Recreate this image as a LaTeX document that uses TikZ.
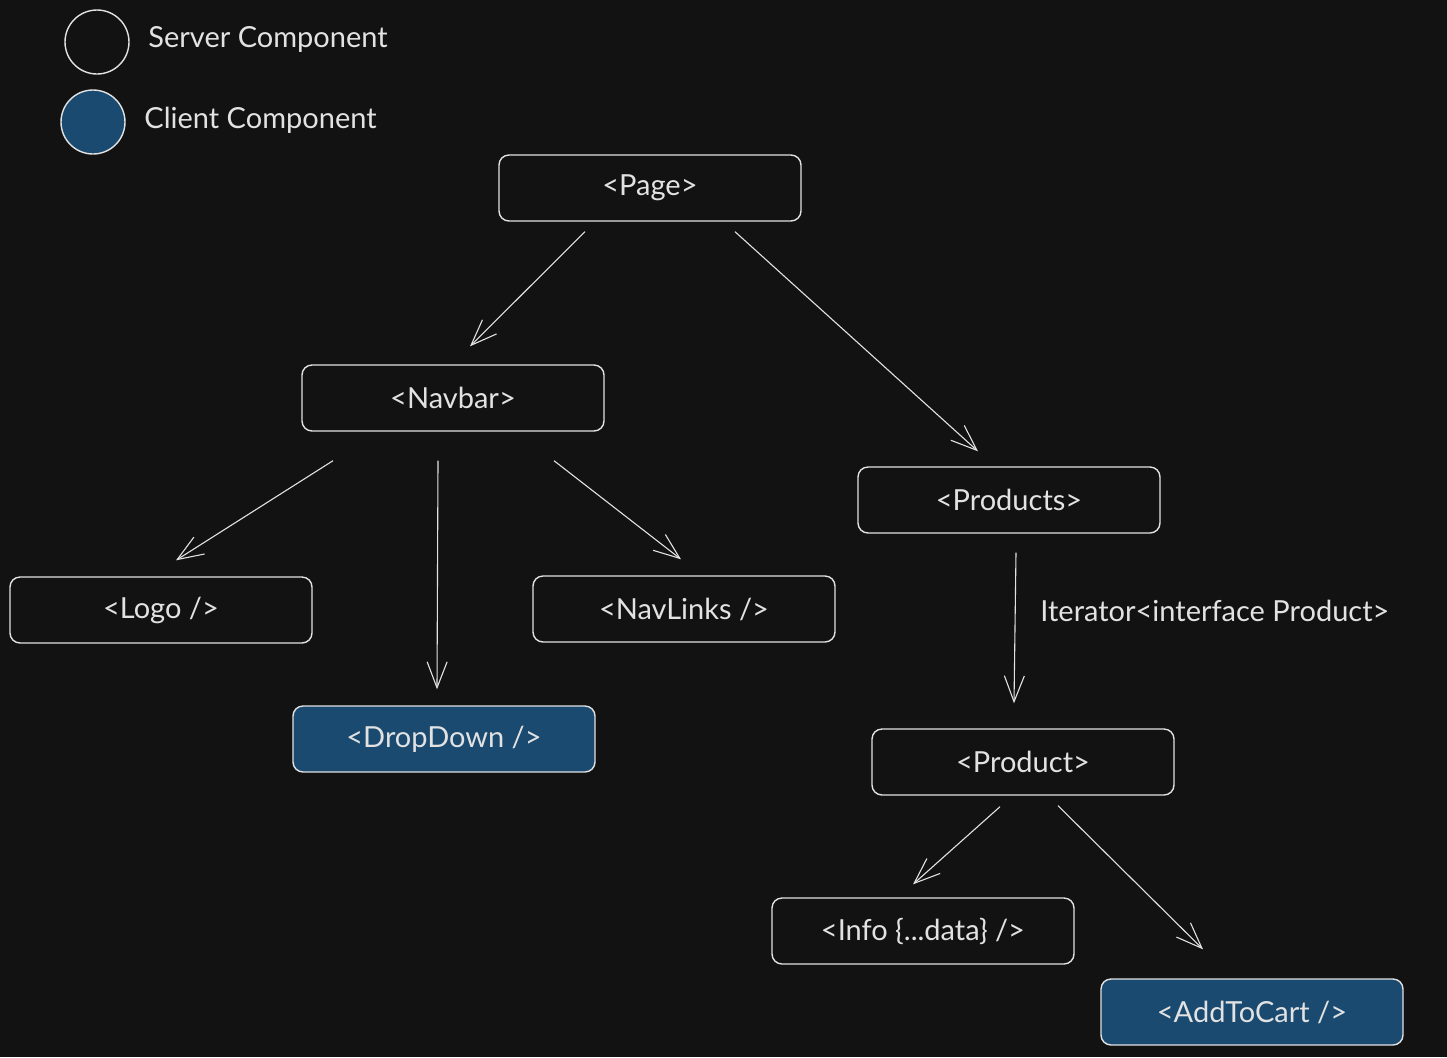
\documentclass[tikz,border=0pt]{standalone}
\usepackage{fontspec}
\setmainfont{Lato}
\usetikzlibrary{arrows.meta}
\definecolor{bg}{HTML}{121212}
\definecolor{ink}{HTML}{E2E2E2}
\definecolor{client}{HTML}{1A4A70}
\begin{document}
\begin{tikzpicture}[x=0.5pt,y=-0.5pt]
        \tikzstyle{comp}=[draw=ink, line width=0.7pt, rounded corners=5pt, minimum width=151pt, minimum height=33pt, inner sep=0pt, text=ink, font=\fontsize{14.5}{17}\selectfont]
        \tikzstyle{client}=[comp, fill=client]
        \tikzstyle{circ}=[circle, draw=ink, line width=0.7pt, inner sep=0pt, minimum width=32pt]
        \tikzstyle{lbl}=[text=ink, anchor=west, inner sep=0pt, font=\fontsize{14.5}{17}\selectfont]
        \tikzstyle{arr}=[draw=ink, line width=0.55pt, -{Straight Barb[length=13pt,width=10pt]}]

        \fill[bg] (0,0) rectangle (1447,1057);
        \useasboundingbox (0,0) rectangle (1447,1057);

        % legend
        \node[circ] (srv) at (97,42) {};
        \node[circ, fill=client] (cli) at (93,122) {};
        \node[lbl] (srvtxt) at (148,39) {Server Component};
        \node[lbl] (clitxt) at (144,120) {Client Component};

        % component tree
        \node[comp] (page) at (650,188) {<Page>};
        \node[comp] (navbar) at (453,398) {<Navbar>};
        \node[comp] (products) at (1009,500) {<Products>};
        \node[comp] (logo) at (161,610) {<Logo />};
        \node[comp] (navlinks) at (684,609) {<NavLinks />};
        \node[client] (dropdown) at (444,739) {<DropDown />};
        \node[comp] (product) at (1023,762) {<Product>};
        \node[comp] (info) at (923,931) {<Info \{...data\} />};
        \node[client] (addtocart) at (1252,1012) {<AddToCart />};

        \draw[arr] ([shift={(-65,10)}]page.south) -- ([shift={(17,-18)}]navbar.north);
        \draw[arr] ([shift={(85,10)}]page.south) -- ([shift={(-31,-15)}]products.north);
        \draw[arr] ([shift={(-120,29)}]navbar.south) -- ([shift={(15,-16)}]logo.north);
        \draw[arr] ([shift={(-15,29)}]navbar.south) -- ([shift={(-7,-16)}]dropdown.north);
        \draw[arr] ([shift={(101,29)}]navbar.south) -- ([shift={(-3,-16)}]navlinks.north);
        \draw[arr] ([shift={(7,19)}]products.south) -- ([shift={(-9,-25)}]product.north);
        \draw[arr] ([shift={(-23,11)}]product.south) -- ([shift={(-10,-13)}]info.north);
        \draw[arr] ([shift={(35,10)}]product.south) -- ([shift={(-49,-29)}]addtocart.north);
        \node[lbl] (iter) at (1040,611) {Iterator<interface Product>};
\end{tikzpicture}
\end{document}
